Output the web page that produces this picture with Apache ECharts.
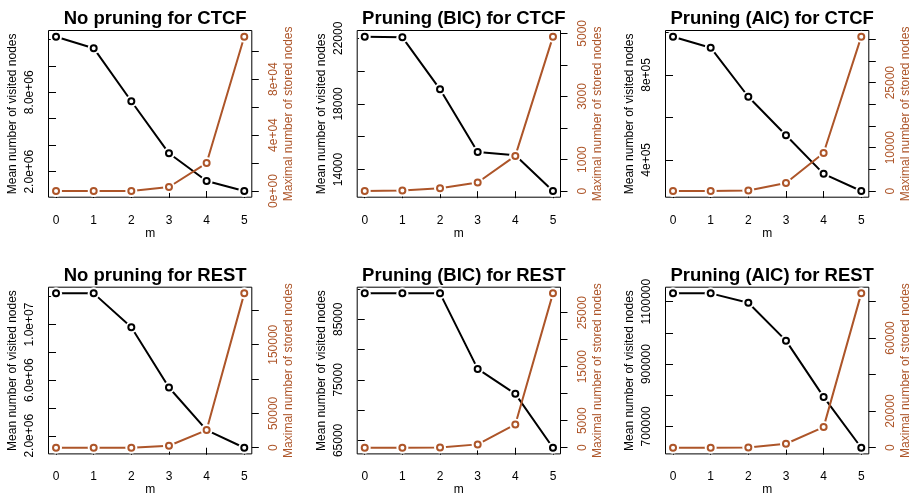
<!DOCTYPE html>
<html>
<head>
<meta charset="utf-8">
<script src="https://cdn.jsdelivr.net/npm/echarts@6/dist/echarts.min.js"></script>
<style>html,body{margin:0;padding:0;background:#fff;}#chart{width:914px;height:498px;}</style>
</head>
<body>
<div id="chart"></div>
<script>
// ---- data ----
const mValues = [0, 1, 2, 3, 4, 5];
const panelTitles = ["No pruning for CTCF", "Pruning (BIC) for CTCF", "Pruning (AIC) for CTCF",
                     "No pruning for REST", "Pruning (BIC) for REST", "Pruning (AIC) for REST"];

const visitedCTCFNone = [12200000, 11330000, 7320000, 3390000, 1300000, 540000];
const storedCTCFNone  = [0, 10, 100, 2860, 20000, 110400];
const visitedCTCFBIC  = [22100, 22060, 18890, 15070, 14870, 12690];
const storedCTCFBIC   = [5, 20, 95, 274, 1118, 4895];
const visitedCTCFAIC  = [980000, 928000, 697000, 516000, 334000, 253000];
const storedCTCFAIC   = [5, 30, 150, 1850, 8770, 35600];
const visitedRESTNone = [12240000, 12240000, 9810000, 5470000, 2410000, 1140000];
const storedRESTNone  = [0, 20, 100, 2900, 25700, 224800];
const visitedRESTBIC  = [89290, 89290, 89290, 76810, 72690, 63790];
const storedRESTBIC   = [0, 10, 60, 620, 4310, 28570];
const visitedRESTAIC  = [1126700, 1126700, 1096800, 975100, 794700, 631700];
const storedRESTAIC   = [0, 20, 180, 2180, 11270, 84360];

// tick positions and labelled ticks
const leftTicksCTCFNone = [2e6, 4e6, 6e6, 8e6, 1e7, 1.2e7];
const leftLabelValsCTCFNone = [2e6, 8e6];
const leftLabelTextCTCFNone = ["2.0e+06", "8.0e+06"];
const rightTicksCTCFNone = [0, 2e4, 4e4, 6e4, 8e4, 1e5];
const rightLabelValsCTCFNone = [0, 4e4, 8e4];
const rightLabelTextCTCFNone = ["0e+00", "4e+04", "8e+04"];

const leftTicksCTCFBIC = [14000, 16000, 18000, 20000, 22000];
const leftLabelValsCTCFBIC = [14000, 18000, 22000];
const leftLabelTextCTCFBIC = ["14000", "18000", "22000"];
const rightTicksCTCFBIC = [0, 1000, 2000, 3000, 4000, 5000];
const rightLabelValsCTCFBIC = [0, 1000, 3000, 5000];
const rightLabelTextCTCFBIC = ["0", "1000", "3000", "5000"];

const leftTicksCTCFAIC = [4e5, 6e5, 8e5, 1e6];
const leftLabelValsCTCFAIC = [4e5, 8e5];
const leftLabelTextCTCFAIC = ["4e+05", "8e+05"];
const rightTicksCTCFAIC = [0, 5000, 10000, 15000, 20000, 25000, 30000, 35000];
const rightLabelValsCTCFAIC = [0, 10000, 25000];
const rightLabelTextCTCFAIC = ["0", "10000", "25000"];

const leftTicksRESTNone = [2e6, 4e6, 6e6, 8e6, 1e7, 1.2e7];
const leftLabelValsRESTNone = [2e6, 6e6, 1e7];
const leftLabelTextRESTNone = ["2.0e+06", "6.0e+06", "1.0e+07"];
const rightTicksRESTNone = [0, 50000, 100000, 150000, 200000];
const rightLabelValsRESTNone = [0, 50000, 150000];
const rightLabelTextRESTNone = ["0", "50000", "150000"];

const leftTicksRESTBIC = [65000, 70000, 75000, 80000, 85000, 90000];
const leftLabelValsRESTBIC = [65000, 75000, 85000];
const leftLabelTextRESTBIC = ["65000", "75000", "85000"];
const rightTicksRESTBIC = [0, 5000, 10000, 15000, 20000, 25000];
const rightLabelValsRESTBIC = [0, 5000, 15000, 25000];
const rightLabelTextRESTBIC = ["0", "5000", "15000", "25000"];

const leftTicksRESTAIC = [700000, 800000, 900000, 1000000, 1100000];
const leftLabelValsRESTAIC = [700000, 900000, 1100000];
const leftLabelTextRESTAIC = ["700000", "900000", "1100000"];
const rightTicksRESTAIC = [0, 20000, 40000, 60000, 80000];
const rightLabelValsRESTAIC = [0, 20000, 60000];
const rightLabelTextRESTAIC = ["0", "20000", "60000"];

const xLabel = "m";
const leftName = "Mean number of visited nodes";
const rightName = "Maximal number of stored nodes";

// ---- assemble panels ----
const panels = [
  [visitedCTCFNone, storedCTCFNone, leftTicksCTCFNone, leftLabelValsCTCFNone, leftLabelTextCTCFNone, rightTicksCTCFNone, rightLabelValsCTCFNone, rightLabelTextCTCFNone],
  [visitedCTCFBIC, storedCTCFBIC, leftTicksCTCFBIC, leftLabelValsCTCFBIC, leftLabelTextCTCFBIC, rightTicksCTCFBIC, rightLabelValsCTCFBIC, rightLabelTextCTCFBIC],
  [visitedCTCFAIC, storedCTCFAIC, leftTicksCTCFAIC, leftLabelValsCTCFAIC, leftLabelTextCTCFAIC, rightTicksCTCFAIC, rightLabelValsCTCFAIC, rightLabelTextCTCFAIC],
  [visitedRESTNone, storedRESTNone, leftTicksRESTNone, leftLabelValsRESTNone, leftLabelTextRESTNone, rightTicksRESTNone, rightLabelValsRESTNone, rightLabelTextRESTNone],
  [visitedRESTBIC, storedRESTBIC, leftTicksRESTBIC, leftLabelValsRESTBIC, leftLabelTextRESTBIC, rightTicksRESTBIC, rightLabelValsRESTBIC, rightLabelTextRESTBIC],
  [visitedRESTAIC, storedRESTAIC, leftTicksRESTAIC, leftLabelValsRESTAIC, leftLabelTextRESTAIC, rightTicksRESTAIC, rightLabelValsRESTAIC, rightLabelTextRESTAIC]
];

const BLACK = '#000000';
const ORANGE = '#AD5529';
const FONT = 'Liberation Sans, Arial, sans-serif';
const gridLefts = [48.5, 357.2, 665.5];
const gridTops = [30.5, 287.2];
const gridW = 203.3, gridH = 166.7;

function rRange(arr) {
  const lo = Math.min.apply(null, arr), hi = Math.max.apply(null, arr);
  const pad = (hi - lo) * 0.04;
  return [lo - pad, hi + pad];
}
function makeFormatter(vals, texts) {
  return function (v) {
    for (let i = 0; i < vals.length; i++) {
      if (Math.abs(vals[i] - v) <= Math.abs(vals[i]) * 1e-9 + 1e-9) return texts[i];
    }
    return '';
  };
}

const grids = [], xAxes = [], yAxes = [], series = [], titles = [];
panels.forEach(function (p, i) {
  const col = i % 3, row = Math.floor(i / 3);
  const left = gridLefts[col], top = gridTops[row];
  grids.push({ left: left, top: top, width: gridW, height: gridH, show: true,
               borderColor: '#000', borderWidth: 1, backgroundColor: 'transparent', containLabel: false });
  titles.push({ text: panelTitles[i], left: left + gridW / 2, top: top - 26, textAlign: 'center',
                textStyle: { fontFamily: FONT, fontSize: 18.5, fontWeight: 'bold', color: '#000' } });
  xAxes.push({
    gridIndex: i, type: 'value', min: -0.2, max: 5.2,
    axisLine: { show: false },
    axisTick: { show: true, inside: false, length: 7, customValues: mValues, lineStyle: { color: '#000', width: 1 } },
    axisLabel: { show: true, customValues: mValues, margin: 17, color: '#000', fontSize: 12, fontFamily: FONT },
    splitLine: { show: false },
    name: xLabel, nameLocation: 'middle', nameGap: 30,
    nameTextStyle: { color: '#000', fontSize: 12, fontFamily: FONT }
  });
  const lr = rRange(p[0]), rr = rRange(p[1]);
  yAxes.push({
    gridIndex: i, type: 'value', position: 'left', min: lr[0], max: lr[1],
    axisLine: { show: false },
    axisTick: { show: true, inside: false, length: 7, customValues: p[2], lineStyle: { color: '#000', width: 1 } },
    axisLabel: { show: true, customValues: p[3], formatter: makeFormatter(p[3], p[4]), rotate: 90,
                 margin: 13, color: '#000', fontSize: 12, fontFamily: FONT },
    splitLine: { show: false },
    name: leftName, nameLocation: 'middle', nameGap: 30, nameRotate: 90,
    nameTextStyle: { color: '#000', fontSize: 12, fontFamily: FONT }
  });
  yAxes.push({
    gridIndex: i, type: 'value', position: 'right', min: rr[0], max: rr[1],
    axisLine: { show: false },
    axisTick: { show: true, inside: false, length: 7, customValues: p[5], lineStyle: { color: '#000', width: 1 } },
    axisLabel: { show: true, customValues: p[6], formatter: makeFormatter(p[6], p[7]), rotate: 90,
                 margin: 16, color: ORANGE, fontSize: 12, fontFamily: FONT },
    splitLine: { show: false },
    name: rightName, nameLocation: 'middle', nameGap: 31, nameRotate: 90,
    nameTextStyle: { color: ORANGE, fontSize: 12, fontFamily: FONT }
  });
  [[p[0], BLACK, 2 * i, 0], [p[1], ORANGE, 2 * i + 1, 10]].forEach(function (s) {
    const data = mValues.map(function (m, k) { return [m, s[0][k]]; });
    const base = { xAxisIndex: i, yAxisIndex: s[2], data: data, silent: true, animation: false };
    series.push(Object.assign({}, base, { type: 'line', symbol: 'none', z: 2 + s[3],
      lineStyle: { color: s[1], width: 2 } }));
    series.push(Object.assign({}, base, { type: 'scatter', symbol: 'circle', symbolSize: 12, z: 3 + s[3],
      itemStyle: { color: '#ffffff', opacity: 1 } }));
    series.push(Object.assign({}, base, { type: 'scatter', symbol: 'circle', symbolSize: 6, z: 4 + s[3],
      itemStyle: { color: '#ffffff', borderColor: s[1], borderWidth: 2, opacity: 1 } }));
  });
});

const chart = echarts.init(document.getElementById('chart'), null, { renderer: 'canvas' });
chart.setOption({
  animation: false,
  backgroundColor: '#ffffff',
  textStyle: { fontFamily: FONT },
  title: titles,
  grid: grids,
  xAxis: xAxes,
  yAxis: yAxes,
  series: series
});
</script>
</body>
</html>
